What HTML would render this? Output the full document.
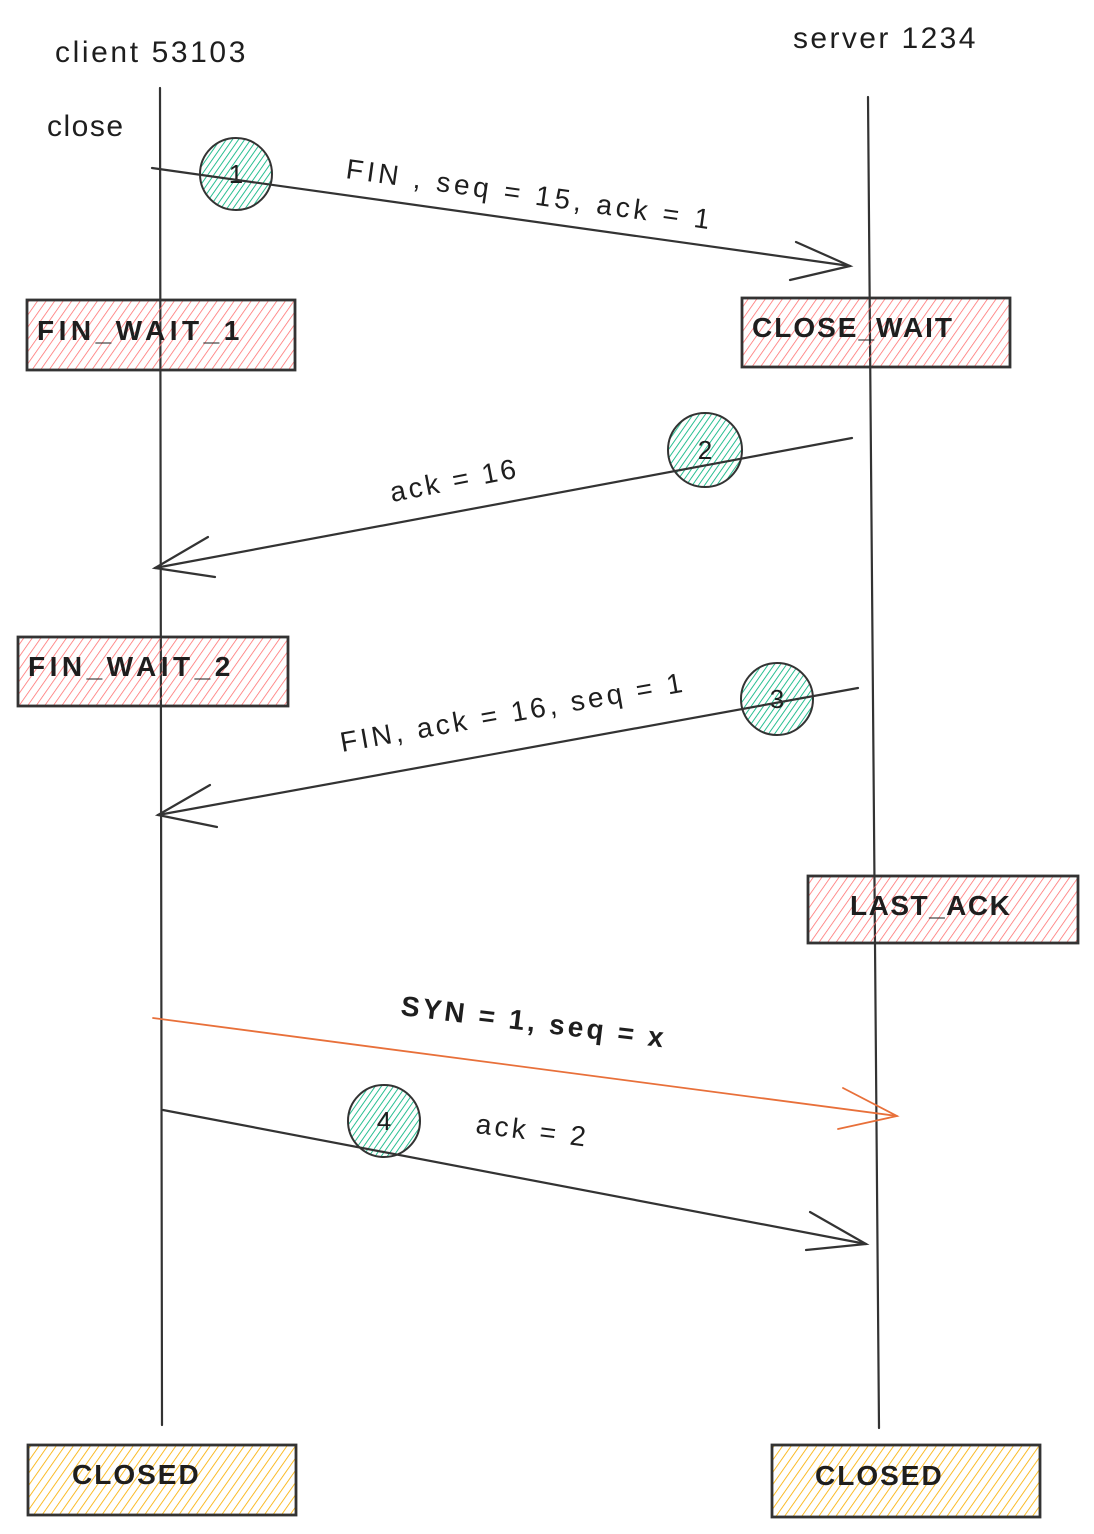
<!DOCTYPE html>
<html><head><meta charset="utf-8"><style>
html,body{margin:0;padding:0;background:#fff;}
svg{display:block}
text{font-family:"Liberation Sans",sans-serif;fill:#1e1e1e;}
</style></head><body>
<svg width="1094" height="1534" viewBox="0 0 1094 1534" xmlns="http://www.w3.org/2000/svg">
<defs>
<pattern id="red" patternUnits="userSpaceOnUse" width="7" height="7" patternTransform="rotate(35)">
<line x1="0" y1="0" x2="0" y2="7" stroke="#ff6b6b" stroke-width="1.5"/></pattern>
<pattern id="green" patternUnits="userSpaceOnUse" width="5" height="5" patternTransform="rotate(35)">
<line x1="0" y1="0" x2="0" y2="5" stroke="#12b886" stroke-width="1.8"/></pattern>
<pattern id="yellow" patternUnits="userSpaceOnUse" width="7" height="7" patternTransform="rotate(35)">
<line x1="0" y1="0" x2="0" y2="7" stroke="#fab005" stroke-width="1.7"/></pattern>
</defs>
<g stroke="#333" fill="none" stroke-width="2.2" stroke-linecap="round">
<line x1="160" y1="88" x2="162" y2="1425"/>
<line x1="868" y1="97" x2="879" y2="1428"/>
</g>
<text x="55" y="62" font-size="30" letter-spacing="2.6">client 53103</text>
<text x="793" y="48" font-size="30" letter-spacing="2.4">server 1234</text>
<text x="47" y="136" font-size="30" letter-spacing="1.5">close</text>

<g stroke="#333" stroke-width="2.8">
<rect x="27" y="300" width="268" height="70" fill="url(#red)"/>
<rect x="742" y="298" width="268" height="69" fill="url(#red)"/>
<rect x="18" y="637" width="270" height="69" fill="url(#red)"/>
<rect x="808" y="876" width="270" height="67" fill="url(#red)"/>
<rect x="28" y="1445" width="268" height="70" fill="url(#yellow)"/>
<rect x="772" y="1445" width="268" height="72" fill="url(#yellow)"/>
</g>
<g font-size="28" font-weight="bold">
<text x="37" y="340" letter-spacing="4.5">FIN_WAIT_1</text>
<text x="752" y="337" letter-spacing="2">CLOSE_WAIT</text>
<text x="28" y="676" letter-spacing="4.5">FIN_WAIT_2</text>
<text x="850" y="915" letter-spacing="1.5">LAST_ACK</text>
<text x="72" y="1484" letter-spacing="2">CLOSED</text>
<text x="815" y="1485" letter-spacing="2">CLOSED</text>
</g>

<g stroke="#333" stroke-width="2">
<circle cx="236" cy="174" r="36" fill="url(#green)"/>
<circle cx="705" cy="450" r="37" fill="url(#green)"/>
<circle cx="777" cy="699" r="36" fill="url(#green)"/>
<circle cx="384" cy="1121" r="36" fill="url(#green)"/>
</g>
<g font-size="26" text-anchor="middle">
<text x="236" y="183">1</text>
<text x="705" y="459">2</text>
<text x="777" y="708">3</text>
<text x="384" y="1130">4</text>
</g>

<g stroke="#333" stroke-width="2.2" fill="none" stroke-linecap="round">
<line x1="152" y1="168" x2="850" y2="266"/>
<polyline points="796,242 850,266 790,280"/>
<line x1="852" y1="438" x2="155" y2="568"/>
<polyline points="208,537 155,568 215,577"/>
<line x1="858" y1="688" x2="158" y2="815"/>
<polyline points="210,785 158,815 217,827"/>
<line x1="163" y1="1110" x2="866" y2="1244"/>
<polyline points="810,1212 866,1244 806,1250"/>
</g>
<g stroke="#e8703a" stroke-width="1.8" fill="none" stroke-linecap="round">
<line x1="153" y1="1018" x2="897" y2="1116"/>
<polyline points="843,1088 897,1116 838,1129"/>
</g>

<g font-size="28">
<text x="345" y="178" transform="rotate(8 345 178)" letter-spacing="3.8">FIN , seq = 15, ack = 1</text>
<text x="392" y="502" transform="rotate(-11 392 502)" letter-spacing="3">ack = 16</text>
<text x="342" y="752" transform="rotate(-10 342 752)" letter-spacing="3.4">FIN, ack = 16, seq = 1</text>
<text x="400" y="1015" transform="rotate(7 400 1015)" font-weight="bold" letter-spacing="3.2">SYN = 1, seq = x</text>
<text x="475" y="1133" transform="rotate(7 475 1133)" letter-spacing="3.2">ack = 2</text>
</g>
</svg>
</body></html>
